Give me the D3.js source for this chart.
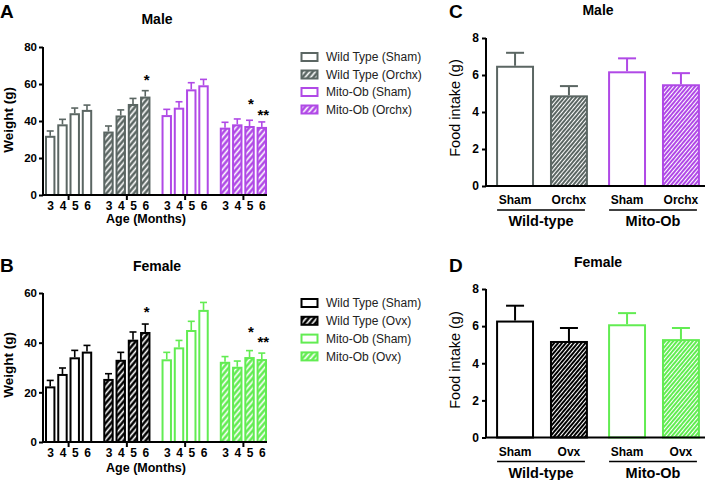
<!DOCTYPE html>
<html><head><meta charset="utf-8">
<script src="https://cdn.jsdelivr.net/npm/d3@7"></script>
<style>body{margin:0;background:#fff} svg{display:block} text{font-family:"Liberation Sans",Arial,Helvetica,sans-serif}</style>
</head><body><svg id="c" width="709" height="480"></svg>
<script>
// ---------- data ----------
const ages = ["3","4","5","6"];
const maleGroups = ["Wild Type (Sham)","Wild Type (Orchx)","Mito-Ob (Sham)","Mito-Ob (Orchx)"];
const femaleGroups = ["Wild Type (Sham)","Wild Type (Ovx)","Mito-Ob (Sham)","Mito-Ob (Ovx)"];
const maleWeight = [[32,38.2,44.2,46],[34.3,43,49.2,53.2],[43.2,47.2,57.1,59.3],[36.4,38.2,37.3,36.8]];
const maleWeightSem = [[2.6,2.7,2.8,2.6],[3,3,3,3.2],[3.1,3.2,3.6,3.2],[2.9,2.9,3.1,2.7]];
const femaleWeight = [[22.4,27.4,34.1,36.4],[25.4,33.1,41.2,44.3],[33.3,38.1,45.1,53.2],[32.3,30.3,34.2,33.4]];
const femaleWeightSem = [[2.4,2.4,2.8,2.5],[2.1,3,3.1,3.2],[2.8,2.8,3.5,3],[2.1,2.3,2.6,2.4]];
const maleStars = [{g:1,a:"6",t:"*",y:63.9},{g:3,a:"5",t:"*",y:51},{g:3,a:"6",t:"**",y:45}];
const femaleStars = [{g:1,a:"6",t:"*",y:53.6},{g:3,a:"5",t:"*",y:45.9},{g:3,a:"6",t:"**",y:41.6}];
const weightTicksMale = [0,20,40,60,80];
const weightTicksFemale = [0,20,40,60];
const genotypes = ["Wild-type","Mito-Ob"];
const maleTreat = ["Sham","Orchx"];
const femaleTreat = ["Sham","Ovx"];
const maleIntake = [[6.5,4.9],[6.2,5.5]];
const maleIntakeSem = [[0.7,0.5],[0.7,0.6]];
const femaleIntake = [[6.3,5.2],[6.1,5.3]];
const femaleIntakeSem = [[0.8,0.7],[0.6,0.6]];
const intakeTicks = [0,2,4,6,8];

const GREY = "#5b6663", PURPLE = "#b049e6", BLACK = "#000000", GREEN = "#62ec52";
const maleColors = [GREY, GREY, PURPLE, PURPLE];
const femaleColors = [BLACK, BLACK, GREEN, GREEN];
const hatched = [false, true, false, true];

const svg = d3.select("#c");
const defs = svg.append("defs");
function hatchPattern(id, color, size, sw){
  const p = defs.append("pattern").attr("id", id).attr("patternUnits","userSpaceOnUse")
    .attr("width", size).attr("height", size).attr("patternTransform","rotate(40)");
  p.append("rect").attr("width", size).attr("height", size).attr("fill", color);
  p.append("line").attr("x1", size/2).attr("x2", size/2).attr("y1", 0).attr("y2", size)
    .attr("stroke","#fff").attr("stroke-width", sw);
}
hatchPattern("hA-grey", GREY, 4.2, 1.6);
hatchPattern("hA-purple", PURPLE, 4.2, 1.6);
hatchPattern("hA-black", BLACK, 4.2, 1.6);
hatchPattern("hA-green", GREEN, 4.2, 1.6);
hatchPattern("hC-grey", GREY, 3.0, 1.0);
hatchPattern("hC-purple", PURPLE, 3.0, 1.0);
hatchPattern("hC-black", BLACK, 3.0, 1.0);
hatchPattern("hC-green", GREEN, 3.0, 1.0);
const colName = c => c===GREY?"grey":c===PURPLE?"purple":c===BLACK?"black":"green";

function weightPanel(o){
  const g = svg.append("g");
  const y = d3.scaleLinear().domain([0, o.max]).range([o.yBot, o.yTop]);
  const xg = d3.scaleBand().domain(d3.range(4)).range([45, 267]).paddingInner(0.19).paddingOuter(0);
  const xa = d3.scaleBand().domain(ages).range([0, xg.bandwidth()]).paddingInner(0.15).paddingOuter(0);
  const sw = 2;
  o.data.forEach((vals, gi) => {
    const col = o.colors[gi];
    const fill = hatched[gi] ? `url(#hA-${colName(col)})` : "#fff";
    vals.forEach((v, ai) => {
      const bx = xg(gi) + xa(ages[ai]);
      const bw = xa.bandwidth();
      const cx = bx + bw/2;
      const top = y(v), et = y(v + o.sem[gi][ai]);
      g.append("line").attr("x1", cx).attr("x2", cx).attr("y1", top).attr("y2", et)
        .attr("stroke", col).attr("stroke-width", 1.6);
      g.append("line").attr("x1", cx - 3.5).attr("x2", cx + 3.5).attr("y1", et).attr("y2", et)
        .attr("stroke", col).attr("stroke-width", 1.6);
      g.append("rect").attr("x", bx + sw/2).attr("y", top + sw/2)
        .attr("width", bw - sw).attr("height", y(0) - top - sw/2)
        .attr("fill", fill).attr("stroke", col).attr("stroke-width", sw);
      g.append("text").attr("x", cx + 0.5).attr("y", o.yBot + 14.5).attr("text-anchor","middle")
        .attr("font-size", 12).attr("font-weight","bold").text(ages[ai]);
    });
  });
  // stars
  o.stars.forEach(s => {
    const cx = xg(s.g) + xa(s.a) + xa.bandwidth()/2 + 1.5;
    g.append("text").attr("x", cx).attr("y", y(s.y) + 8.5).attr("text-anchor","middle")
      .attr("font-size", 15).attr("font-weight","bold").text(s.t);
  });
  // axes
  const ya = g.append("g").attr("transform", `translate(43,0)`)
    .call(d3.axisLeft(y).tickValues(o.ticks).tickSize(4).tickPadding(2));
  ya.select(".domain").attr("stroke-width", 2).attr("d", `M0,${o.yTop}V${o.yBot}`);
  ya.selectAll(".tick line").attr("stroke-width", 2);
  ya.selectAll(".tick text").attr("font-size", 11.5).attr("font-weight","bold")
    .attr("font-family",'"Liberation Sans",Arial,sans-serif').attr("fill","#000");
  g.append("line").attr("x1", 42).attr("x2", 267).attr("y1", o.yBot).attr("y2", o.yBot)
    .attr("stroke","#000").attr("stroke-width", 2);
  d3.range(4).forEach(gi => {
    const cx = xg(gi) + xg.bandwidth()/2;
    g.append("line").attr("x1", cx).attr("x2", cx).attr("y1", o.yBot).attr("y2", o.yBot + 5)
      .attr("stroke","#000").attr("stroke-width", 2);
  });
  g.append("text").attr("x", 146).attr("y", o.labelY).attr("text-anchor","middle")
    .attr("font-size", 12.5).attr("font-weight","bold").text("Age (Months)");
  g.append("text").attr("transform", `translate(13,${o.ylabY}) rotate(-90)`).attr("text-anchor","middle")
    .attr("font-size", 13.5).attr("font-weight","bold").text("Weight (g)");
  g.append("text").attr("x", 157).attr("y", o.titleY).attr("text-anchor","middle")
    .attr("font-size", 14).attr("font-weight","bold").text(o.title);
  g.append("text").attr("x", 0).attr("y", o.letterY).attr("font-size", 19).attr("font-weight","bold").text(o.letter);
  // legend
  const lg = svg.append("g");
  o.groups.forEach((name, gi) => {
    const cy = o.legY + gi * o.legStep;
    const col = o.colors[gi];
    lg.append("rect").attr("x", 301.5).attr("y", cy - 4).attr("width", 16).attr("height", 8)
      .attr("fill", hatched[gi] ? `url(#hA-${colName(col)})` : "#fff").attr("stroke", col).attr("stroke-width", 2);
    lg.append("text").attr("x", 326).attr("y", cy + 4.3).attr("font-size", 12).attr("fill","#222").text(name);
  });
}

weightPanel({yTop:47, yBot:195, max:80, ticks:weightTicksMale, data:maleWeight, sem:maleWeightSem,
  groups:maleGroups, colors:maleColors, stars:maleStars, title:"Male", letter:"A",
  labelY:223, ylabY:120, titleY:24, letterY:18, legY:57, legStep:17.5});
weightPanel({yTop:293, yBot:442, max:60, ticks:weightTicksFemale, data:femaleWeight, sem:femaleWeightSem,
  groups:femaleGroups, colors:femaleColors, stars:femaleStars, title:"Female", letter:"B",
  labelY:472, ylabY:365, titleY:271, letterY:272, legY:303, legStep:17.8});

function intakePanel(o){
  const g = svg.append("g");
  const y = d3.scaleLinear().domain([0, 8]).range([o.yBot, o.yTop]);
  const xg = d3.scaleBand().domain(genotypes).range([486, 710]).paddingInner(0.18).paddingOuter(0.09);
  const xt = d3.scaleBand().domain(o.treat).range([0, xg.bandwidth()]).paddingInner(0.296).paddingOuter(0);
  const sw = 2;
  genotypes.forEach((gn, gi) => {
    o.treat.forEach((tr, ti) => {
      const idx = gi*2 + ti;
      const col = o.colors[idx];
      const bx = xg(gn) + xt(tr), bw = xt.bandwidth(), cx = bx + bw/2;
      const v = o.data[gi][ti];
      const top = y(v), et = y(v + o.sem[gi][ti]);
      g.append("line").attr("x1", cx).attr("x2", cx).attr("y1", top).attr("y2", et)
        .attr("stroke", col).attr("stroke-width", 2);
      g.append("line").attr("x1", cx - 9).attr("x2", cx + 9).attr("y1", et).attr("y2", et)
        .attr("stroke", col).attr("stroke-width", 2);
      g.append("rect").attr("x", bx + sw/2).attr("y", top + sw/2)
        .attr("width", bw - sw).attr("height", y(0) - top - sw/2)
        .attr("fill", hatched[idx] ? `url(#hC-${colName(col)})` : "#fff")
        .attr("stroke", col).attr("stroke-width", sw);
      g.append("text").attr("x", cx).attr("y", o.yBot + 18).attr("text-anchor","middle")
        .attr("font-size", 12).attr("font-weight","bold").text(tr);
    });
    const gx0 = xg(gn), gx1 = xg(gn) + xg.bandwidth();
    g.append("line").attr("x1", gx0 + 1).attr("x2", gx1 - 3).attr("y1", o.yBot + 24).attr("y2", o.yBot + 24)
      .attr("stroke","#000").attr("stroke-width", 1.5);
    g.append("text").attr("x", (gx0 + gx1)/2 - 1).attr("y", o.yBot + 40).attr("text-anchor","middle")
      .attr("font-size", 14.5).attr("font-weight","bold").text(gn);
  });
  const ya = g.append("g").attr("transform", `translate(486,0)`)
    .call(d3.axisLeft(y).tickValues(intakeTicks).tickSize(4).tickPadding(3));
  ya.select(".domain").attr("stroke-width", 2).attr("d", `M0,${o.yTop}V${o.yBot}`);
  ya.selectAll(".tick line").attr("stroke-width", 2);
  ya.selectAll(".tick text").attr("font-size", 12).attr("font-weight","bold")
    .attr("font-family",'"Liberation Sans",Arial,sans-serif').attr("fill","#000");
  g.append("line").attr("x1", 485).attr("x2", 705).attr("y1", o.yBot).attr("y2", o.yBot)
    .attr("stroke","#000").attr("stroke-width", 2);
  g.append("text").attr("transform", `translate(460,${o.ylabY}) rotate(-90)`).attr("text-anchor","middle")
    .attr("font-size", 14.5).text("Food intake (g)");
  g.append("text").attr("x", 598).attr("y", o.titleY).attr("text-anchor","middle")
    .attr("font-size", 14).attr("font-weight","bold").text(o.title);
  g.append("text").attr("x", 449).attr("y", o.letterY).attr("font-size", 19).attr("font-weight","bold").text(o.letter);
}
intakePanel({yTop:38, yBot:186, data:maleIntake, sem:maleIntakeSem, treat:maleTreat, colors:maleColors,
  title:"Male", letter:"C", ylabY:108, titleY:15, letterY:18});
intakePanel({yTop:289, yBot:437.5, data:femaleIntake, sem:femaleIntakeSem, treat:femaleTreat, colors:femaleColors,
  title:"Female", letter:"D", ylabY:360, titleY:267, letterY:272});
</script></body></html>
